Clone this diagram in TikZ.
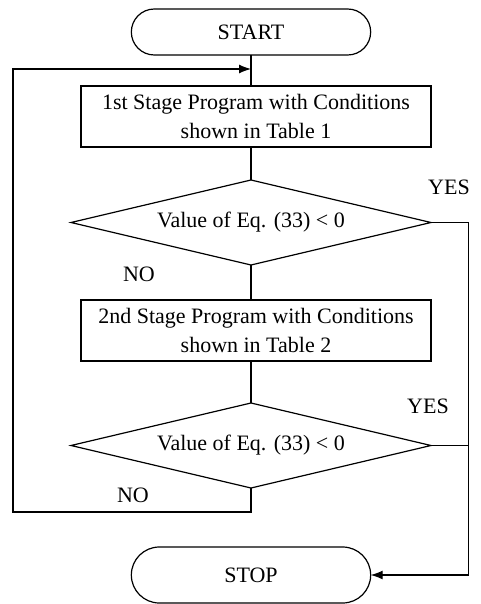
\documentclass[tikz,border=0pt]{standalone}
\usepackage{fontspec}
\setmainfont{Liberation Serif}
\usetikzlibrary{positioning,shapes.geometric,shapes.misc,arrows.meta}

\begin{document}
\begin{tikzpicture}[
        x=1pt, y=-1pt,
        line width=1.2pt,
        every node/.style = {font=\fontsize{22}{29}\selectfont, outer sep=0pt},
        term/.style     = {rounded rectangle, draw, minimum width=246pt, minimum height=46pt},
        stagebox/.style = {rectangle, draw, align=center, minimum width=350pt, minimum height=61pt, inner sep=2pt},
        test/.style     = {diamond, draw, aspect=4.2, minimum width=360pt, minimum height=85pt, inner sep=0pt},
        lbl/.style      = {inner sep=0pt},
        >={Latex[length=12pt, width=9pt]}
    ]
        \useasboundingbox (0,0) rectangle (480,604);

        \node[term]                                (start)  at (251,32) {START};
        \node[stagebox, below=31pt of start, xshift=5pt]   (stage1) {1st Stage Program with Conditions\\shown in Table 1};
        \node[test,     below=33pt of stage1, xshift=-5pt] (test1)  {Value of Eq. (33) < 0};
        \node[stagebox, below=35pt of test1, xshift=5pt]   (stage2) {2nd Stage Program with Conditions\\shown in Table 2};
        \node[test,     below=42pt of stage2, xshift=-5pt] (test2)  {Value of Eq. (33) < 0};
        \node[term,     below=59pt of test2, minimum height=56pt] (stop) {STOP};

        \node[lbl] (yes1) at (449,187) {YES};
        \node[lbl] (no1)  at (139,274) {NO};
        \node[lbl] (yes2) at (428,406) {YES};
        \node[lbl] (no2)  at (133,495) {NO};

        \coordinate (join) at (251,69);
        \coordinate (lb)   at (13,512);
        \path (stop.east) ++(98,0) coordinate (rb);

        % main line
        \draw (start.south) -- (start.south |- stage1.north);
        \draw (test1.north |- stage1.south) -- (test1.north);
        \draw (test1.south) -- (test1.south |- stage2.north);
        \draw (test2.north |- stage2.south) -- (test2.north);

        % NO: back to the first stage
        \draw[->] (test2.south) |- (lb) |- (join);

        % YES: to stop
        \draw[->] (test1.east) -| (rb) -- (stop.east);
        \draw (test2.east) -- (test2.east -| rb);
\end{tikzpicture}
\end{document}
